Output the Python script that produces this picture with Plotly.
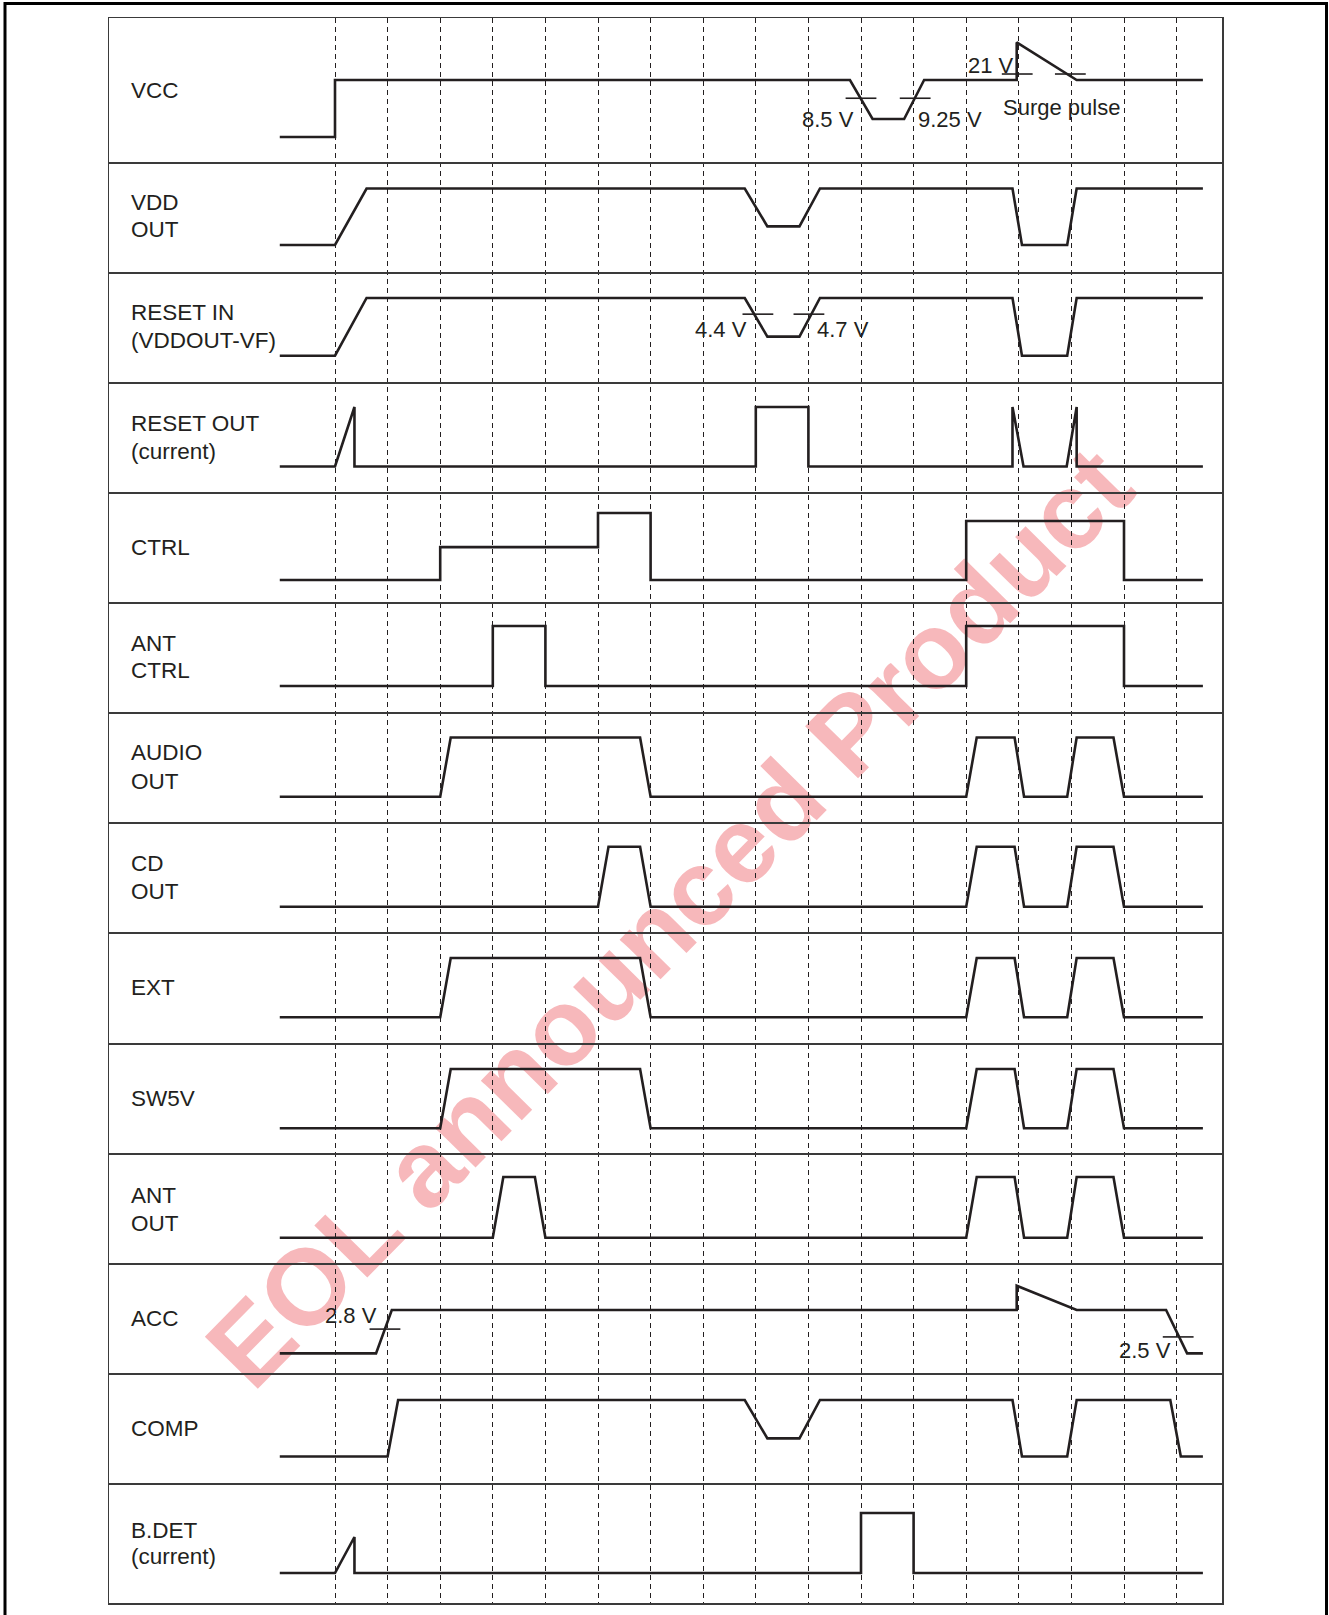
import plotly.graph_objects as go

W, H = 1329, 1615

# ---------------- data (time in grid units, level 0 = low, 1 = high) ----------------
row_names = [["VCC"], ["VDD", "OUT"], ["RESET IN", "(VDDOUT-VF)"], ["RESET OUT", "(current)"],
             ["CTRL"], ["ANT", "CTRL"], ["AUDIO", "OUT"], ["CD", "OUT"], ["EXT"], ["SW5V"],
             ["ANT", "OUT"], ["ACC"], ["COMP"], ["B.DET", "(current)"]]

grid_times = list(range(17))

vcc_t = [-1.05, 0, 0, 9.79, 10.22, 10.82, 11.2, 12.96, 12.96, 14.1, 16.5]
vcc_v = [0, 0, 1, 1, 0.316, 0.316, 1, 1, 1.66, 1, 1]

vdd_t = [-1.05, 0, 0.6, 7.79, 8.22, 8.83, 9.22, 12.88, 13.06, 13.92, 14.1, 16.5]
vdd_v = [0, 0, 1, 1, 0.33, 0.33, 1, 1, 0, 0, 1, 1]

rstin_t = [-1.05, 0, 0.6, 7.79, 8.22, 8.83, 9.22, 12.88, 13.06, 13.92, 14.1, 16.5]
rstin_v = [0, 0, 1, 1, 0.33, 0.33, 1, 1, 0, 0, 1, 1]

rstout_t = [-1.05, 0, 0.37, 0.37, 8, 8, 9, 9, 12.88, 12.88, 13.09, 13.91, 14.1, 14.1, 16.5]
rstout_v = [0, 0, 1, 0, 0, 1, 1, 0, 0, 1, 0, 0, 1, 0, 0]

ctrl_t = [-1.05, 2, 2, 5, 5, 6, 6, 12, 12, 15, 15, 16.5]
ctrl_v = [0, 0, 0.49, 0.49, 1, 1, 0, 0, 0.88, 0.88, 0, 0]

antctrl_t = [-1.05, 3, 3, 4, 4, 12, 12, 15, 15, 16.5]
antctrl_v = [0, 0, 1, 1, 0, 0, 1, 1, 0, 0]

audio_t = [-1.05, 2, 2.2, 5.8, 6.0, 12, 12.2, 12.92, 13.1, 13.92, 14.1, 14.8, 15.0, 16.5]
audio_v = [0, 0, 1, 1, 0, 0, 1, 1, 0, 0, 1, 1, 0, 0]

cd_t = [-1.05, 5, 5.2, 5.8, 6.0, 12, 12.2, 12.92, 13.1, 13.92, 14.1, 14.8, 15.0, 16.5]
cd_v = [0, 0, 1, 1, 0, 0, 1, 1, 0, 0, 1, 1, 0, 0]

ext_t = [-1.05, 2, 2.2, 5.8, 6.0, 12, 12.2, 12.92, 13.1, 13.92, 14.1, 14.8, 15.0, 16.5]
ext_v = [0, 0, 1, 1, 0, 0, 1, 1, 0, 0, 1, 1, 0, 0]

sw5v_t = [-1.05, 2, 2.2, 5.8, 6.0, 12, 12.2, 12.92, 13.1, 13.92, 14.1, 14.8, 15.0, 16.5]
sw5v_v = [0, 0, 1, 1, 0, 0, 1, 1, 0, 0, 1, 1, 0, 0]

antout_t = [-1.05, 3, 3.2, 3.8, 4.0, 12, 12.2, 12.92, 13.1, 13.92, 14.1, 14.8, 15.0, 16.5]
antout_v = [0, 0, 1, 1, 0, 0, 1, 1, 0, 0, 1, 1, 0, 0]

acc_t = [-1.05, 0.78, 1.08, 12.96, 12.96, 14.1, 15.8, 16.2, 16.5]
acc_v = [0, 0, 1, 1, 1.56, 1, 1, 0, 0]

comp_t = [-1.05, 1, 1.2, 7.79, 8.22, 8.83, 9.22, 12.88, 13.06, 13.92, 14.1, 15.88, 16.08, 16.5]
comp_v = [0, 0, 1, 1, 0.32, 0.32, 1, 1, 0, 0, 1, 1, 0, 0]

bdet_t = [-1.05, 0, 0.37, 0.37, 10, 10, 11, 11, 16.5]
bdet_v = [0, 0, 0.6, 0, 0, 1, 1, 0, 0]

signals = [(vcc_t, vcc_v), (vdd_t, vdd_v), (rstin_t, rstin_v), (rstout_t, rstout_v),
           (ctrl_t, ctrl_v), (antctrl_t, antctrl_v), (audio_t, audio_v), (cd_t, cd_v),
           (ext_t, ext_v), (sw5v_t, sw5v_v), (antout_t, antout_v), (acc_t, acc_v),
           (comp_t, comp_v), (bdet_t, bdet_v)]

# threshold tick marks
thr_row = [0, 0, 0, 0, 2, 2, 11, 11]
thr_t = [10.0, 11.03, 12.97, 13.98, 8.04, 9.01, 0.95, 16.03]
thr_v = [0.68, 0.68, 1.105, 1.105, 0.72, 0.72, 0.56, 0.38]

# threshold labels
lab_text = ["8.5 V", "9.25 V", "21 V", "Surge pulse", "4.4 V", "4.7 V", "2.8 V", "2.5 V"]
lab_row = [0, 0, 0, 0, 2, 2, 11, 11]
lab_t = [9.89, 11.06, 12.93, 12.68, 7.86, 9.14, 0.82, 15.91]
lab_v = [0.30, 0.30, 1.26, 0.51, 0.46, 0.46, 0.88, 0.06]
lab_anchor = ["right", "left", "right", "left", "right", "left", "right", "right"]

watermark = "EOL announced Product"

# ---------------- layout geometry (pixels) ----------------
INK = "#231f20"
RULE = "#3a3a3a"
FONT = "Liberation Sans, Arial, sans-serif"
TL, TR, TT, TB = 109, 1222, 18, 1603
T0, DT = 335, 52.6
bounds = [18, 162, 272, 382, 492, 602, 712, 822, 932, 1043, 1153, 1263, 1373, 1483, 1603]
low_px = [137, 245, 355.7, 466.5, 580, 686, 796.7, 906.7, 1017.3, 1128.3, 1237.7, 1353.4, 1456.5, 1573]
high_px = [80, 188.5, 298, 407, 513, 626, 737.5, 846.7, 958, 1069, 1177, 1310, 1400, 1513]
label_y = [[90.5], [203, 230], [312, 341], [424, 451], [547], [643, 670.5], [753, 781],
           [863, 891], [987], [1098], [1195, 1223], [1318], [1428], [1530, 1556]]
LABEL_X = 129

xdom = [TL / W, TR / W]
xr = [(TL - T0) / DT, (TR - T0) / DT]

fig = go.Figure()

layout = dict(width=W, height=H, margin=dict(l=0, r=0, t=0, b=0),
              paper_bgcolor="white", plot_bgcolor="rgba(0,0,0,0)", showlegend=False,
              font=dict(family=FONT, color=INK, size=22.5))

# overlay subplot for the dashed time grid
layout["xaxis"] = dict(domain=xdom, range=xr, tickmode="array", tickvals=grid_times,
                       showgrid=True, griddash="5px,4px", gridcolor=INK, gridwidth=1,
                       showticklabels=False, ticks="", zeroline=False, showline=False,
                       fixedrange=True)
layout["yaxis"] = dict(domain=[1 - TB / H, 1 - TT / H], range=[0, 1], showgrid=False,
                       showticklabels=False, ticks="", zeroline=False, showline=False,
                       fixedrange=True)
fig.add_trace(go.Scatter(x=[], y=[], xaxis="x", yaxis="y", mode="lines", hoverinfo="skip"))

annotations = []
for i in range(14):
    k = i + 2
    top, bot = bounds[i], bounds[i + 1]
    lo, hi = low_px[i], high_px[i]
    span = lo - hi
    layout[f"xaxis{k}"] = dict(domain=xdom, range=xr, anchor=f"y{k}", showline=True,
                               mirror=(i == 0), linecolor=RULE, linewidth=1.5, showgrid=False,
                               zeroline=False, showticklabels=False, ticks="", fixedrange=True)
    layout[f"yaxis{k}"] = dict(domain=[1 - bot / H, 1 - top / H],
                               range=[(lo - bot) / span, (lo - top) / span], anchor=f"x{k}",
                               showline=True, mirror=True, linecolor=RULE, linewidth=1.5,
                               showgrid=False, zeroline=False, showticklabels=False, ticks="",
                               fixedrange=True)
    t, v = signals[i]
    fig.add_trace(go.Scatter(x=t, y=v, xaxis=f"x{k}", yaxis=f"y{k}", mode="lines",
                             line=dict(color=INK, width=2.6), hoverinfo="skip"))
    for txt, yc in zip(row_names[i], label_y[i]):
        annotations.append(dict(text=txt, xref="paper", yref="paper", x=LABEL_X / W, y=1 - yc / H,
                                xanchor="left", yanchor="middle", showarrow=False,
                                font=dict(family=FONT, size=22.5, color=INK)))

# threshold ticks
for r, tt, vv in zip(thr_row, thr_t, thr_v):
    k = r + 2
    fig.add_trace(go.Scatter(x=[tt], y=[vv], xaxis=f"x{k}", yaxis=f"y{k}", mode="markers",
                             marker=dict(symbol="line-ew", size=22, line=dict(color=INK, width=1.6)),
                             cliponaxis=False, hoverinfo="skip"))

for txt, r, tt, vv, anc in zip(lab_text, lab_row, lab_t, lab_v, lab_anchor):
    k = r + 2
    annotations.append(dict(text=txt, xref=f"x{k}", yref=f"y{k}", x=tt, y=vv, xanchor=anc,
                            yanchor="middle", showarrow=False, borderpad=0,
                            font=dict(family=FONT, size=22, color=INK)))

layout["annotations"] = annotations

# outer frame (bottom edge runs off the page)
fx0, fx1, fy0, fy1 = 5 / W, 1326.5 / W, 1 - 3.5 / H, 1 - 1640 / H
shapes = [dict(type="path", xref="paper", yref="paper",
               path=f"M {fx0},{fy1} L {fx0},{fy0} L {fx1},{fy0} L {fx1},{fy1}",
               line=dict(color="black", width=3))]

# watermark behind the drawing
cx, cy = 662 / W, 1 - 910 / H
shapes.append(dict(type="rect", xref="paper", yref="paper", layer="below",
                   x0=cx - 0.01, x1=cx + 0.01, y0=cy - 0.01, y1=cy + 0.01,
                   line=dict(width=0), fillcolor="rgba(0,0,0,0)",
                   label=dict(text=watermark, textangle=-45.5, textposition="middle center",
                              font=dict(family="Liberation Sans, Arial, sans-serif", size=108,
                                        color="rgba(232,40,50,0.33)", weight="bold"))))
layout["shapes"] = shapes

fig.update_layout(**layout)
fig.write_html("out.html", config={"displayModeBar": False, "staticPlot": True},
               post_script="document.body.style.margin='0px';document.body.style.padding='0px';")
